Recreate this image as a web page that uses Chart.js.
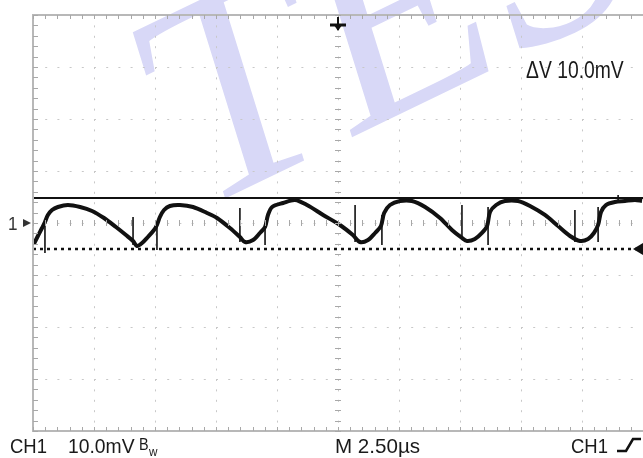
<!DOCTYPE html>
<html>
<head>
<meta charset="utf-8">
<script src="https://cdn.jsdelivr.net/npm/chart.js@4.4.1/dist/chart.umd.min.js"></script>
<style>
  html, body { margin: 0; padding: 0; background: #fff; }
  canvas { display: block; }
</style>
</head>
<body>
<canvas id="scope" width="643" height="458"></canvas>
<script>
// --- trace: time in us, level in mV ---
const timeUs = [0.04, 0.20, 0.37, 0.49, 0.61, 0.78, 1.02, 1.43, 1.93, 2.42, 2.91, 3.40, 3.81, 4.10, 4.26,
  4.47, 4.71, 4.96, 5.08, 5.20, 5.37, 5.61, 6.02, 6.56, 7.13, 7.54, 8.07, 8.48, 8.69,
  9.02, 9.30, 9.51, 9.63, 9.80, 10.25, 10.74, 11.23, 11.89, 12.58, 13.11, 13.40,
  13.73, 14.02, 14.26, 14.39, 14.63, 15.04, 15.53, 16.07, 16.68, 17.17, 17.58, 17.79,
  18.11, 18.40, 18.61, 18.73, 18.98, 19.34, 19.88, 20.37, 20.98, 21.52, 22.01, 22.42,
  22.75, 22.99, 23.16, 23.28, 23.48, 23.85, 24.26, 24.67, 24.96];
const traceMv = [-4.04, -2.50, -0.96, 0.19, 1.54, 2.50, 3.08, 3.46, 3.08, 2.31, 0.96, -0.77, -2.31, -3.46, -4.42,
  -3.85, -2.69, -1.35, -0.38, 1.15, 2.50, 3.27, 3.46, 3.08, 1.92, 0.96, -0.96, -2.69, -3.65,
  -3.27, -1.92, -0.77, 1.54, 3.08, 3.85, 4.42, 3.46, 1.54, -0.38, -2.31, -3.65,
  -3.27, -1.92, -0.58, 1.92, 3.46, 4.23, 4.23, 3.08, 0.96, -1.35, -2.88, -3.46,
  -3.08, -1.92, -0.58, 2.12, 3.46, 4.23, 4.23, 3.27, 1.54, -0.58, -2.50, -3.46,
  -3.08, -1.92, -0.38, 2.12, 3.46, 4.04, 4.23, 4.42, 4.23];

// switching spikes: time, top and bottom level (mV)
const spikeUs = [0.49, 4.10, 5.08, 8.48, 9.51, 13.20, 14.30, 17.58, 18.65, 22.21, 23.16, 23.98];
const spikeTopMv = [-0.38, 1.15, 0.19, 2.88, -0.38, 3.46, 1.54, 3.46, 3.08, 2.50, 3.08, 5.38];
const spikeBottomMv = [-5.77, -4.23, -5.19, -3.65, -4.23, -3.65, -4.23, -2.88, -4.23, -3.65, -3.65, 4.23];

// cursors (mV), ground reference, trigger position
const cursorMv = [4.8, -5.0];
const groundMv = 0;
const triggerUs = 12.5;

// graticule: 10 x 2.5us, 8 x 10mV
const xRange = [0, 25];
const yRange = [-40, 40];
const xDivUs = 2.5;
const yDivMv = 10;

const readout = {
  delta: "ΔV 10.0mV",
  ch: "CH1",
  scale: "10.0mV",
  bw: "B",
  bwSub: "w",
  time: "M 2.50\u00b5s",
  trig: "CH1"
};

const spikePts = [];
spikeUs.forEach((t, i) => {
  spikePts.push({ x: t, y: spikeTopMv[i] }, { x: t, y: spikeBottomMv[i] }, { x: t, y: null });
});

function txt(ctx, s, x, y, size, sx) {
  ctx.save();
  ctx.font = size + 'px "Liberation Sans", Arial, sans-serif';
  ctx.translate(x, y);
  ctx.scale(sx, 1);
  ctx.fillText(s, 0, 0);
  ctx.restore();
}

const scopePlugin = {
  id: 'scope',
  beforeDraw(chart) {
    const ctx = chart.ctx;
    // watermark
    ctx.save();
    ctx.fillStyle = '#d8d8f7';
    ctx.font = '290px "Liberation Serif", "Times New Roman", serif';
    ctx.translate(185, 218);
    ctx.rotate(-0.45);
    ctx.transform(1, 0, -0.15, 1, 0, 0);
    ctx.fillText('TES', 0, 0);
    ctx.restore();
  },
  afterDraw(chart) {
    const ctx = chart.ctx;
    const xs = chart.scales.x, ys = chart.scales.y;
    const a = chart.chartArea;
    ctx.save();
    // frame
    ctx.strokeStyle = '#b8b8b8';
    ctx.lineWidth = 2;
    ctx.strokeRect(a.left, a.top, a.right - a.left + 2, a.bottom - a.top);
    ctx.lineWidth = 1;
    ctx.strokeStyle = '#a8a8a8';
    const xc = xs.getPixelForValue(triggerUs);
    const y0 = ys.getPixelForValue(0);
    for (let t = xRange[0]; t <= xRange[1] + 1e-6; t += xDivUs / 5) {
      const px = Math.round(xs.getPixelForValue(t)) + 0.5;
      ctx.beginPath();
      ctx.moveTo(px, a.top); ctx.lineTo(px, a.top + 4);
      ctx.moveTo(px, a.bottom); ctx.lineTo(px, a.bottom - 4);
      ctx.moveTo(px, y0 - 3); ctx.lineTo(px, y0 + 3);
      ctx.stroke();
    }
    for (let v = yRange[0]; v <= yRange[1] + 1e-6; v += yDivMv / 5) {
      const py = Math.round(ys.getPixelForValue(v)) + 0.5;
      ctx.beginPath();
      ctx.moveTo(a.left, py); ctx.lineTo(a.left + 5, py);
      ctx.moveTo(xc - 3, py); ctx.lineTo(xc + 3, py);
      ctx.stroke();
    }

    ctx.fillStyle = '#111';
    ctx.strokeStyle = '#111';
    // trigger marker
    ctx.lineWidth = 2;
    ctx.beginPath();
    ctx.moveTo(xc, a.top + 2); ctx.lineTo(xc, a.top + 15);
    ctx.stroke();
    ctx.lineWidth = 3;
    ctx.beginPath();
    ctx.moveTo(xc - 8, a.top + 10); ctx.lineTo(xc + 8, a.top + 10);
    ctx.stroke();
    ctx.beginPath();
    ctx.moveTo(xc - 4, a.top + 10); ctx.lineTo(xc + 4, a.top + 10); ctx.lineTo(xc, a.top + 16);
    ctx.closePath(); ctx.fill();

    // ground marker "1>"
    const yg = ys.getPixelForValue(groundMv);
    ctx.fillStyle = '#333';
    txt(ctx, '1', 8, yg + 7, 19, 0.9);
    ctx.beginPath();
    ctx.moveTo(23, yg - 4); ctx.lineTo(31, yg); ctx.lineTo(23, yg + 4);
    ctx.closePath(); ctx.fill();

    // cursor marker on the right
    const yc = ys.getPixelForValue(cursorMv[1]);
    ctx.fillStyle = '#111';
    ctx.beginPath();
    ctx.moveTo(a.right - 10, yc); ctx.lineTo(a.right, yc - 6); ctx.lineTo(a.right, yc + 6);
    ctx.closePath(); ctx.fill();

    // readouts
    ctx.fillStyle = '#1a1a1a';
    txt(ctx, readout.delta, 526, 78, 23, 0.84);
    txt(ctx, readout.ch, 10, 453, 21, 0.88);
    txt(ctx, readout.scale, 68, 453, 21, 0.92);
    txt(ctx, readout.bw, 139, 450, 16, 0.9);
    txt(ctx, readout.bwSub, 149, 456, 13, 0.9);
    txt(ctx, readout.time, 335, 453, 21, 0.98);
    txt(ctx, readout.trig, 571, 453, 21, 0.88);
    // rising-edge symbol
    ctx.lineWidth = 2.5;
    ctx.beginPath();
    ctx.moveTo(617, 451); ctx.lineTo(626, 451); ctx.lineTo(633, 439); ctx.lineTo(641, 439);
    ctx.stroke();
    ctx.restore();
  }
};

new Chart(document.getElementById('scope'), {
  type: 'line',
  data: {
    datasets: [
      {
        label: 'CH1',
        data: timeUs.map((t, i) => ({ x: t, y: traceMv[i] })),
        borderColor: '#111',
        borderWidth: 4,
        pointRadius: 0,
        tension: 0.3
      },
      {
        label: 'spikes',
        data: spikePts,
        borderColor: '#111',
        borderWidth: 1.6,
        pointRadius: 0,
        spanGaps: false
      },
      {
        label: 'cursor 1',
        data: [{ x: xRange[0], y: cursorMv[0] }, { x: xRange[1], y: cursorMv[0] }],
        borderColor: '#111',
        borderWidth: 2,
        pointRadius: 0
      },
      {
        label: 'cursor 2',
        data: [{ x: xRange[0], y: cursorMv[1] }, { x: xRange[1], y: cursorMv[1] }],
        borderColor: '#111',
        borderWidth: 2.5,
        borderDash: [3, 4],
        pointRadius: 0
      }
    ]
  },
  options: {
    responsive: false,
    animation: false,
    devicePixelRatio: 1,
    layout: { padding: { left: 33, top: 15, right: 0, bottom: 27 } },
    plugins: { legend: { display: false }, tooltip: { enabled: false } },
    scales: {
      x: {
        type: 'linear', min: xRange[0], max: xRange[1],
        ticks: { display: false, stepSize: xDivUs },
        grid: { color: '#c8c8c8', lineWidth: 1, drawTicks: false },
        border: { display: false, dash: [2, 8.4] }
      },
      y: {
        type: 'linear', min: yRange[0], max: yRange[1],
        ticks: { display: false, stepSize: yDivMv },
        grid: { color: '#c8c8c8', lineWidth: 1, drawTicks: false },
        border: { display: false, dash: [2, 10.2] }
      }
    }
  },
  plugins: [scopePlugin]
});
</script>
</body>
</html>
